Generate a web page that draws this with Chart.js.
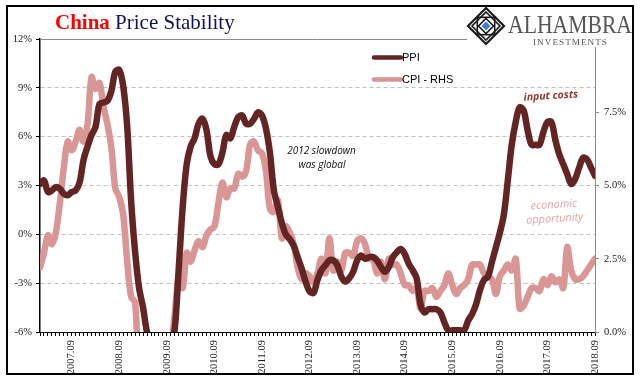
<!DOCTYPE html>
<html>
<head>
<meta charset="utf-8">
<script src="https://cdn.jsdelivr.net/npm/chart.js@4.4.1/dist/chart.umd.min.js"></script>
<style>
html, body { margin: 0; padding: 0; background: #fff; }
#wrap { width: 641px; height: 381px; }
</style>
</head>
<body>
<div id="wrap"><canvas id="priceChart" width="641" height="381"></canvas></div>
<script>
// monthly, 2007.01 .. 2018.09
const years = [2007, 2008, 2009, 2010, 2011, 2012, 2013, 2014, 2015, 2016, 2017, 2018];
const months = [];
years.forEach(y => {
	for (let m = 1; m <= 12; m++) {
		if (y === 2018 && m > 9) break;
		months.push(y + '.' + String(m).padStart(2, '0'));
	}
});

// PPI, % y/y (left axis)
const ppi = [
	3.1,
	3.3, 2.6, 2.7, 2.9, 2.8, 2.5, 2.4, 2.6, 2.7, 3.2, 4.6, 5.4,
	6.1, 6.6, 8.0, 8.1, 8.2, 8.8, 10.0, 10.1, 9.1, 6.6, 2.0, -1.1,
	-3.3, -4.5, -6.0, -6.6, -7.2, -7.8, -8.2, -7.9, -7.0, -5.8, -2.1, 1.7,
	4.3, 5.4, 5.9, 6.8, 7.1, 6.4, 4.8, 4.3, 4.3, 5.0, 6.1, 5.9,
	6.6, 7.2, 7.3, 6.8, 6.8, 7.1, 7.5, 7.3, 6.5, 5.0, 2.7, 1.7,
	0.7, 0.0, -0.3, -0.7, -1.4, -2.1, -2.9, -3.5, -3.6, -2.8, -2.2, -1.9,
	-1.6, -1.6, -1.9, -2.6, -2.9, -2.7, -2.3, -1.6, -1.3, -1.5, -1.4, -1.4,
	-1.6, -2.0, -2.3, -2.0, -1.4, -1.1, -0.9, -1.2, -1.8, -2.2, -2.7,
	-4.3, -4.8, -4.6, -4.6, -4.6, -4.8, -5.4, -5.9, -5.9, -5.9, -5.9, -5.9,
	-5.3, -4.9, -4.3, -3.4, -2.8, -2.6, -1.7, -0.8, 0.1, 1.2, 3.3, 5.5,
	6.9, 7.8, 7.6, 6.4, 5.5, 5.5, 5.5, 6.3, 6.9, 6.9, 5.8, 4.9,
	4.3, 3.7, 3.1, 3.4, 4.1, 4.7, 4.6, 4.1, 3.6
];

// CPI, % y/y (right axis)
const cpi = [
	2.2, 2.7, 3.3, 3.0, 3.4, 4.4, 5.6, 6.5, 6.2, 6.5, 6.9, 6.5,
	7.1, 8.7, 8.3, 8.5, 7.7, 7.1, 6.3, 4.9, 4.6, 4.0, 2.4, 1.2,
	1.0, -1.6, -1.2, -1.5, -1.4, -1.7, -1.8, -1.2, -0.8, -0.5, 0.6, 1.9,
	1.5, 2.7, 2.4, 2.8, 3.1, 2.9, 3.3, 3.5, 3.6, 4.4, 5.1, 4.6,
	4.9, 4.9, 5.4, 5.3, 5.5, 6.4, 6.5, 6.2, 6.1, 5.5, 4.2, 4.1,
	4.5, 3.2, 3.6, 3.4, 3.0, 2.2, 1.8, 2.0, 1.9, 1.7, 2.0, 2.5,
	2.0, 3.2, 2.1, 2.4, 2.1, 2.7, 2.7, 2.6, 3.1, 3.2, 3.0, 2.5,
	2.5, 2.0, 2.4, 1.8, 2.5, 2.3, 2.3, 2.0, 1.6, 1.6, 1.4, 1.5,
	0.8, 1.4, 1.4, 1.5, 1.2, 1.4, 1.6, 2.0, 1.6, 1.3, 1.5, 1.6,
	1.8, 2.3, 2.3, 2.3, 2.0, 1.9, 1.8, 1.3, 1.9, 2.1, 2.3, 2.1,
	2.5, 0.8, 0.9, 1.2, 1.5, 1.5, 1.4, 1.8, 1.6, 1.9, 1.7, 1.8,
	1.5, 2.9, 2.1, 1.8, 1.8, 1.9, 2.1, 2.3, 2.5
];

const leftTicks = [-6, -3, 0, 3, 6, 9, 12];
const rightTicks = [0, 2.5, 5, 7.5, 10];

const PPI_COLOR = '#632523';
const CPI_COLOR = '#D99694';
const SERIF = '"Liberation Serif", "Times New Roman", serif';

// title, frame, logo, legend and notes drawn on the canvas
const decor = {
	id: 'decor',
	beforeDatasetsDraw(chart) {
		const { ctx, chartArea } = chart;
		ctx.save();
		ctx.strokeStyle = '#8c8c8c';
		ctx.lineWidth = 1;
		ctx.beginPath();
		ctx.moveTo(chartArea.left, chartArea.top + 0.5);
		ctx.lineTo(chartArea.right, chartArea.top + 0.5);
		ctx.stroke();
		ctx.restore();
	},
	afterDraw(chart) {
		const ctx = chart.ctx;
		ctx.save();

		// frame
		ctx.strokeStyle = '#000';
		ctx.lineWidth = 2;
		ctx.strokeRect(7, 6, 626, 368);

		// title
		ctx.textBaseline = 'alphabetic';
		ctx.textAlign = 'left';
		ctx.font = 'bold 21px ' + SERIF;
		ctx.fillStyle = '#FF0000';
		ctx.fillText('China', 55, 29);
		const w = ctx.measureText('China ').width;
		ctx.font = '21px ' + SERIF;
		ctx.fillStyle = '#10106B';
		ctx.fillText('Price Stability', 55 + w, 29);

		// logo
		ctx.fillStyle = '#fff';
		ctx.fillRect(467, 8, 165, 39);
		drawLogo(ctx, 486, 26, 18);
		ctx.fillStyle = '#555';
		ctx.font = '25px ' + SERIF;
		let tw = ctx.measureText('ALHAMBRA').width;
		ctx.save();
		ctx.translate(508, 33);
		ctx.scale(124 / tw, 1);
		ctx.fillText('ALHAMBRA', 0, 0);
		ctx.restore();
		ctx.font = '9px ' + SERIF;
		ctx.letterSpacing = '1px';
		tw = ctx.measureText('INVESTMENTS').width;
		ctx.save();
		ctx.translate(533, 45);
		ctx.scale(75 / tw, 1);
		ctx.fillText('INVESTMENTS', 0, 0);
		ctx.restore();
		ctx.letterSpacing = '0px';

		// legend
		const items = chart.data.datasets;
		items.forEach((ds, i) => {
			const y = 57.5 + i * 22;
			ctx.strokeStyle = ds.borderColor;
			ctx.lineWidth = 4.5;
			ctx.lineCap = 'round';
			ctx.beginPath();
			ctx.moveTo(374, y);
			ctx.lineTo(401, y);
			ctx.stroke();
			ctx.fillStyle = '#000';
			ctx.font = '11px "Liberation Sans", Arial, sans-serif';
			ctx.textBaseline = 'middle';
			ctx.fillText(ds.label, 402, y + 0.5);
		});

		// notes
		ctx.textAlign = 'center';
		ctx.textBaseline = 'alphabetic';
		ctx.fillStyle = '#111';
		ctx.font = 'italic 10px "Open Sans", sans-serif';
		ctx.fillText('2012 slowdown', 321.5, 153.5);
		ctx.fillText('was global', 322, 167.5);

		ctx.save();
		ctx.translate(551, 99);
		ctx.rotate(-0.06);
		ctx.fillStyle = '#953735';
		ctx.font = 'italic bold 10.5px "Open Sans", sans-serif';
		ctx.fillText('input costs', 0, 0);
		ctx.restore();

		ctx.save();
		ctx.translate(554, 208);
		ctx.rotate(-0.06);
		ctx.fillStyle = '#E6A3A1';
		ctx.font = 'italic 11px "Open Sans", sans-serif';
		ctx.fillText('economic', 0, 0);
		ctx.fillText('opportunity', 0, 14);
		ctx.restore();

		ctx.restore();
	}
};

function drawLogo(ctx, cx, cy, r) {
	ctx.save();
	ctx.translate(cx, cy);
	ctx.strokeStyle = '#1a1a1a';
	ctx.lineJoin = 'miter';
	const diamond = s => {
		ctx.beginPath();
		ctx.moveTo(0, -s); ctx.lineTo(s, 0); ctx.lineTo(0, s); ctx.lineTo(-s, 0);
		ctx.closePath();
	};
	ctx.lineWidth = 2.2;
	diamond(r);
	ctx.stroke();
	ctx.lineWidth = 1.6;
	diamond(r - 4);
	ctx.stroke();
	const q = (r - 4) * 0.62;
	ctx.strokeRect(-q, -q, 2 * q, 2 * q);
	ctx.lineWidth = 1.2;
	ctx.beginPath();
	ctx.moveTo(-q, 0); ctx.lineTo(q, 0);
	ctx.moveTo(0, -q); ctx.lineTo(0, q);
	ctx.stroke();
	ctx.fillStyle = '#fff';
	diamond(7.5);
	ctx.fill();
	ctx.lineWidth = 1.6;
	ctx.stroke();
	ctx.fillStyle = '#3f7fcf';
	diamond(4.5);
	ctx.fill();
	ctx.restore();
}

new Chart(document.getElementById('priceChart'), {
	type: 'line',
	data: {
		labels: months,
		datasets: [
			{
				label: 'PPI',
				data: ppi,
				yAxisID: 'y',
				borderColor: PPI_COLOR,
				borderWidth: 6.5,
				tension: 0.35,
				pointRadius: 0,
				borderCapStyle: 'round',
				borderJoinStyle: 'round',
				clip: 0
			},
			{
				label: 'CPI - RHS',
				data: cpi,
				yAxisID: 'y2',
				borderColor: CPI_COLOR,
				borderWidth: 6.5,
				tension: 0.35,
				pointRadius: 0,
				borderCapStyle: 'round',
				borderJoinStyle: 'round',
				clip: 0
			}
		]
	},
	options: {
		responsive: false,
		animation: false,
		devicePixelRatio: 1,
		layout: { padding: { top: 39, left: 0, right: 0, bottom: 0 } },
		plugins: {
			legend: { display: false },
			title: { display: false },
			tooltip: { enabled: false }
		},
		scales: {
			x: {
				type: 'category',
				offset: false,
				grid: {
					drawOnChartArea: false,
					color: '#000',
					tickLength: 4
				},
				border: { color: '#000', width: 1 },
				ticks: {
					autoSkip: false,
					minRotation: 90,
					maxRotation: 90,
					padding: 4,
					color: '#1a1a1a',
					font: { family: SERIF, size: 10.5 },
					callback: (v, i) => months[i].endsWith('.09') ? months[i] : ''
				},
				afterFit: s => { s.height = 49; }
			},
			y: {
				position: 'left',
				min: leftTicks[0],
				max: leftTicks[leftTicks.length - 1],
				afterBuildTicks: s => { s.ticks = leftTicks.map(v => ({ value: v })); },
				grid: {
					color: c => (c.tick && (c.tick.value === 12 || c.tick.value === -6)) ? 'rgba(0,0,0,0)' : '#c0c0c0',
					tickColor: '#000',
					tickLength: 4
				},
				border: { color: '#000', width: 1.5, dash: [4, 3] },
				ticks: {
					padding: 4,
					color: '#1a1a1a',
					font: { family: SERIF, size: 10.5 },
					callback: v => v + '%'
				},
				afterFit: s => { s.width = 40; }
			},
			y2: {
				position: 'right',
				min: rightTicks[0],
				max: rightTicks[rightTicks.length - 1],
				afterBuildTicks: s => { s.ticks = rightTicks.map(v => ({ value: v })); },
				grid: {
					drawOnChartArea: false,
					tickColor: '#8c8c8c',
					tickLength: 4
				},
				border: { color: '#8c8c8c', width: 1 },
				ticks: {
					padding: 5,
					color: '#1a1a1a',
					font: { family: SERIF, size: 10.5 },
					callback: v => v === 10 ? '' : v.toFixed(1) + '%'
				},
				afterFit: s => { s.width = 46; }
			}
		}
	},
	plugins: [decor]
});
</script>
</body>
</html>
